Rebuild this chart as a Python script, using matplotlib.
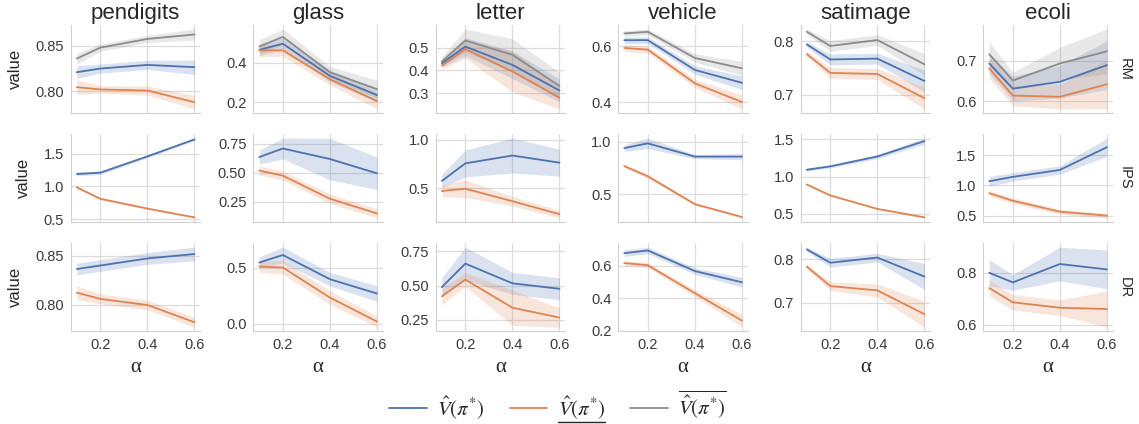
import matplotlib
matplotlib.use("Agg")
import matplotlib.pyplot as plt
import seaborn as sns
import numpy as np
from matplotlib.lines import Line2D

datasets = ["pendigits", "glass", "letter", "vehicle", "satimage", "ecoli"]
alphas = [0.1, 0.2, 0.4, 0.6]
estimators = ["RM", "IPS", "DR"]

# RM: point value, lower bound, upper bound (mean and half width of the band)
rm_value = {
    "pendigits": [0.821, 0.825, 0.829, 0.8265],
    "glass": [0.467, 0.498, 0.334, 0.236],
    "letter": [0.431, 0.504, 0.424, 0.312],
    "vehicle": [0.622, 0.622, 0.515, 0.469],
    "satimage": [0.794, 0.766, 0.7675, 0.726],
    "ecoli": [0.693, 0.631, 0.648, 0.689],
}
rm_value_err = {
    "pendigits": [0.007, 0.005, 0.005, 0.008],
    "glass": [0.03, 0.03, 0.03, 0.035],
    "letter": [0.015, 0.04, 0.06, 0.05],
    "vehicle": [0.012, 0.012, 0.015, 0.025],
    "satimage": [0.005, 0.01, 0.01, 0.02],
    "ecoli": [0.025, 0.03, 0.04, 0.06],
}
rm_lower = {
    "pendigits": [0.8045, 0.802, 0.8008, 0.788],
    "glass": [0.464, 0.464, 0.317, 0.205],
    "letter": [0.421, 0.493, 0.395, 0.281],
    "vehicle": [0.594, 0.588, 0.467, 0.400],
    "satimage": [0.776, 0.741, 0.739, 0.694],
    "ecoli": [0.681, 0.614, 0.611, 0.642],
}
rm_lower_err = {
    "pendigits": [0.008, 0.004, 0.005, 0.0075],
    "glass": [0.03, 0.03, 0.03, 0.04],
    "letter": [0.015, 0.04, 0.09, 0.05],
    "vehicle": [0.012, 0.012, 0.015, 0.025],
    "satimage": [0.005, 0.01, 0.01, 0.02],
    "ecoli": [0.025, 0.025, 0.03, 0.06],
}
rm_upper = {
    "pendigits": [0.836, 0.848, 0.8576, 0.8625],
    "glass": [0.484, 0.533, 0.352, 0.266],
    "letter": [0.439, 0.531, 0.468, 0.332],
    "vehicle": [0.646, 0.652, 0.558, 0.521],
    "satimage": [0.8175, 0.791, 0.802, 0.757],
    "ecoli": [0.716, 0.651, 0.693, 0.723],
}
rm_upper_err = {
    "pendigits": [0.006, 0.004, 0.004, 0.006],
    "glass": [0.036, 0.04, 0.03, 0.045],
    "letter": [0.02, 0.05, 0.07, 0.06],
    "vehicle": [0.01, 0.01, 0.015, 0.025],
    "satimage": [0.005, 0.01, 0.01, 0.02],
    "ecoli": [0.03, 0.02, 0.04, 0.055],
}

# IPS
ips_value = {
    "pendigits": [1.19, 1.21, 1.46, 1.72],
    "glass": [0.635, 0.709, 0.618, 0.494],
    "letter": [0.573, 0.755, 0.836, 0.762],
    "vehicle": [0.939, 0.984, 0.858, 0.858],
    "satimage": [1.092, 1.138, 1.27, 1.477],
    "ecoli": [1.068, 1.14, 1.254, 1.63],
}
ips_value_err = {
    "pendigits": [0.03, 0.03, 0.02, 0.02],
    "glass": [0.06, 0.09, 0.18, 0.14],
    "letter": [0.07, 0.14, 0.18, 0.14],
    "vehicle": [0.03, 0.05, 0.02, 0.03],
    "satimage": [0.02, 0.02, 0.03, 0.04],
    "ecoli": [0.08, 0.07, 0.07, 0.15],
}
ips_lower = {
    "pendigits": [0.985, 0.81, 0.66, 0.525],
    "glass": [0.518, 0.474, 0.274, 0.147],
    "letter": [0.469, 0.493, 0.364, 0.23],
    "vehicle": [0.768, 0.671, 0.406, 0.284],
    "satimage": [0.895, 0.748, 0.567, 0.454],
    "ecoli": [0.87, 0.746, 0.565, 0.50],
}
ips_lower_err = {
    "pendigits": [0.02, 0.015, 0.01, 0.01],
    "glass": [0.04, 0.04, 0.04, 0.04],
    "letter": [0.06, 0.09, 0.05, 0.04],
    "vehicle": [0.015, 0.02, 0.01, 0.01],
    "satimage": [0.015, 0.01, 0.01, 0.01],
    "ecoli": [0.05, 0.05, 0.04, 0.04],
}

# DR
dr_value = {
    "pendigits": [0.8367, 0.8403, 0.8475, 0.852],
    "glass": [0.545, 0.612, 0.396, 0.268],
    "letter": [0.488, 0.66, 0.516, 0.476],
    "vehicle": [0.678, 0.695, 0.568, 0.499],
    "satimage": [0.823, 0.792, 0.804, 0.76],
    "ecoli": [0.80, 0.763, 0.834, 0.813],
}
dr_value_err = {
    "pendigits": [0.006, 0.006, 0.006, 0.007],
    "glass": [0.05, 0.07, 0.06, 0.07],
    "letter": [0.07, 0.12, 0.08, 0.08],
    "vehicle": [0.02, 0.02, 0.02, 0.03],
    "satimage": [0.005, 0.01, 0.01, 0.03],
    "ecoli": [0.05, 0.03, 0.065, 0.075],
}
dr_lower = {
    "pendigits": [0.8126, 0.8062, 0.80, 0.7824],
    "glass": [0.509, 0.50, 0.232, 0.018],
    "letter": [0.421, 0.543, 0.338, 0.266],
    "vehicle": [0.617, 0.604, 0.432, 0.263],
    "satimage": [0.783, 0.738, 0.728, 0.673],
    "ecoli": [0.741, 0.686, 0.665, 0.66],
}
dr_lower_err = {
    "pendigits": [0.007, 0.005, 0.005, 0.005],
    "glass": [0.05, 0.06, 0.06, 0.05],
    "letter": [0.06, 0.05, 0.13, 0.07],
    "vehicle": [0.015, 0.015, 0.02, 0.04],
    "satimage": [0.005, 0.01, 0.015, 0.03],
    "ecoli": [0.03, 0.03, 0.03, 0.07],
}

blue, orange, gray = "#4C72B0", "#DD8452", "#8C8C8C"

rows = {
    "RM": [(rm_value, rm_value_err, blue), (rm_lower, rm_lower_err, orange),
           (rm_upper, rm_upper_err, gray)],
    "IPS": [(ips_value, ips_value_err, blue), (ips_lower, ips_lower_err, orange)],
    "DR": [(dr_value, dr_value_err, blue), (dr_lower, dr_lower_err, orange)],
}

sns.set_style("whitegrid")
plt.rcParams["font.family"] = ["Liberation Sans", "DejaVu Sans"]
plt.rcParams["mathtext.fontset"] = "stix"

fig, axes = plt.subplots(3, 6, figsize=(11.39, 4.24), dpi=100, sharex=True)
fig.subplots_adjust(left=0.0623, right=0.977, top=0.941, bottom=0.219,
                    wspace=0.41, hspace=0.24)

x = np.array(alphas)
for i, est in enumerate(estimators):
    for j, name in enumerate(datasets):
        ax = axes[i, j]
        for vals, errs, color in rows[est]:
            m = np.array(vals[name])
            e = np.array(errs[name])
            ax.fill_between(x, m - e, m + e, color=color, alpha=0.2, linewidth=0)
            ax.plot(x, m, color=color, lw=1.3)
        ax.set_xticks([0.2, 0.4, 0.6])
        ax.tick_params(labelsize=10.5, colors="#3a3a3a", pad=5, length=0)
        for s in ["top", "right"]:
            ax.spines[s].set_visible(False)
        for s in ["left", "bottom"]:
            ax.spines[s].set_color("#d0d0d0")
        ax.grid(color="#dcdcdc", lw=0.9)
        if i == 0:
            ax.set_title(name, fontsize=16, pad=4, color="#262626")
        if j == 0:
            ax.set_ylabel("value", fontsize=12, color="#262626", labelpad=9)
        if i == 2:
            ax.set_xlabel("α", fontsize=15, color="#262626",
                          family=["Liberation Serif", "DejaVu Serif"])
        if j == 5:
            ax.annotate(est, xy=(1.04, 0.5), xycoords="axes fraction",
                        rotation=270, ha="left", va="center",
                        fontsize=10.5, color="#262626")

handles = [Line2D([], [], color=c, lw=1.3) for c in [blue, orange, gray]]
labels = [r"$\hat{V}(\pi^{*})$", r"$\hat{V}(\pi^{*})$", r"$\overline{\hat{V}(\pi^{*})}$"]
leg = fig.legend(handles, labels, loc="center", bbox_to_anchor=(0.49, 0.045),
                 ncol=3, frameon=False, fontsize=15, handlelength=1.8,
                 handletextpad=0.5, columnspacing=1.2)

# underline for the lower bound label
fig.canvas.draw()
bb = leg.get_texts()[1].get_window_extent()
inv = fig.transFigure.inverted()
(x0, y0), (x1, _) = inv.transform([(bb.x0, bb.y0 - 1), (bb.x1, bb.y0)])
fig.add_artist(Line2D([x0, x1], [y0, y0], transform=fig.transFigure,
                      color="#262626", lw=1.0))

fig.savefig("out.png", dpi=100)
